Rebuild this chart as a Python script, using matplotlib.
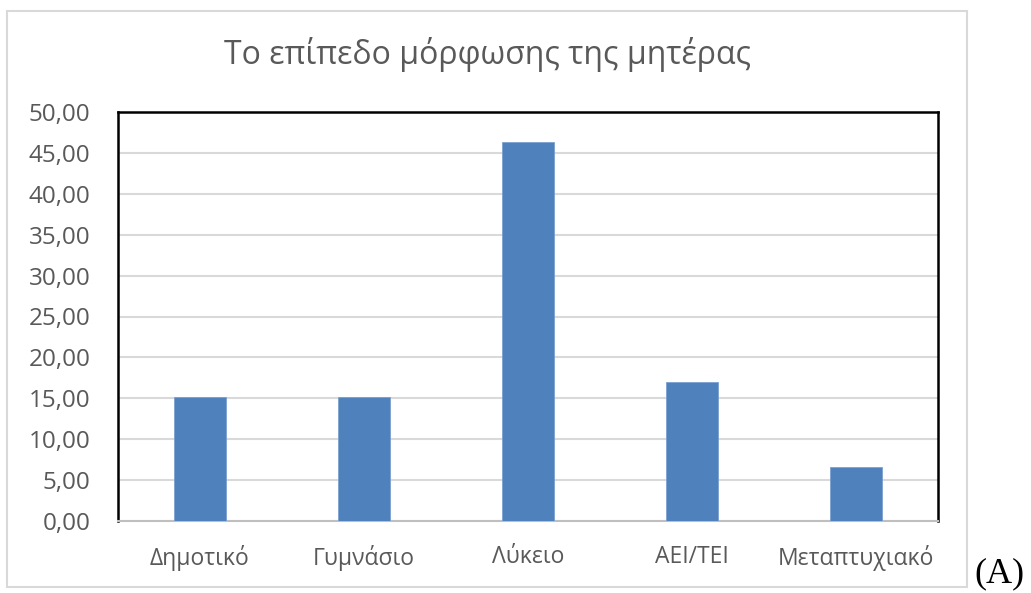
import matplotlib.pyplot as plt
from matplotlib.patches import Rectangle
from matplotlib.ticker import FuncFormatter

categories = ['Δημοτικό', 'Γυμνάσιο', 'Λύκειο', 'ΑΕΙ/ΤΕΙ', 'Μεταπτυχιακό']
values = [15.1, 15.1, 46.3, 17.0, 6.6]
title = 'Το επίπεδο μόρφωσης της μητέρας'

plt.rcParams['font.family'] = ['Open Sans', 'DejaVu Sans']

W, H = 1031, 593
fig = plt.figure(figsize=(W / 100, H / 100), dpi=100)

# chart area border
fig.patches.append(Rectangle((7 / W, 1 - 587 / H), 960 / W, 576 / H,
                             transform=fig.transFigure, fill=False,
                             edgecolor='#d9d9d9', linewidth=1.5))

ax = fig.add_axes([118 / W, 1 - 521 / H, 820 / W, 409 / H])
ax.bar(range(len(categories)), values, width=0.317, color='#4f81bd',
       edgecolor='#7ba0cf', linewidth=0.6, zorder=3)

ax.set_xlim(-0.5, len(categories) - 0.5)
ax.set_ylim(0, 50)
ax.set_yticks(range(0, 51, 5))
ax.yaxis.set_major_formatter(FuncFormatter(lambda v, p: f'{v:.2f}'.replace('.', ',')))
ax.set_xticks(range(len(categories)))
ax.set_xticklabels(categories)
ax.grid(axis='y', color='#d9d9d9', linewidth=1.5, zorder=0)
ax.tick_params(length=0)
ax.tick_params(axis='y', labelsize=17.5, labelcolor='#595959', pad=20)
ax.tick_params(axis='x', labelsize=16.5, labelcolor='#595959', pad=17)

for side in ['left', 'top', 'right']:
    ax.spines[side].set_color('black')
    ax.spines[side].set_linewidth(1.8)
ax.spines['bottom'].set_color('#bfbfbf')
ax.spines['bottom'].set_linewidth(1.5)

fig.text(487 / W, 1 - 55 / H, title, ha='center', va='center',
         fontsize=23, color='#595959')
fig.text(999 / W, 1 - 574 / H, '(A)', ha='center', va='center',
         fontsize=26, family='Liberation Serif', color='black')

fig.savefig('out.png', dpi=100)
